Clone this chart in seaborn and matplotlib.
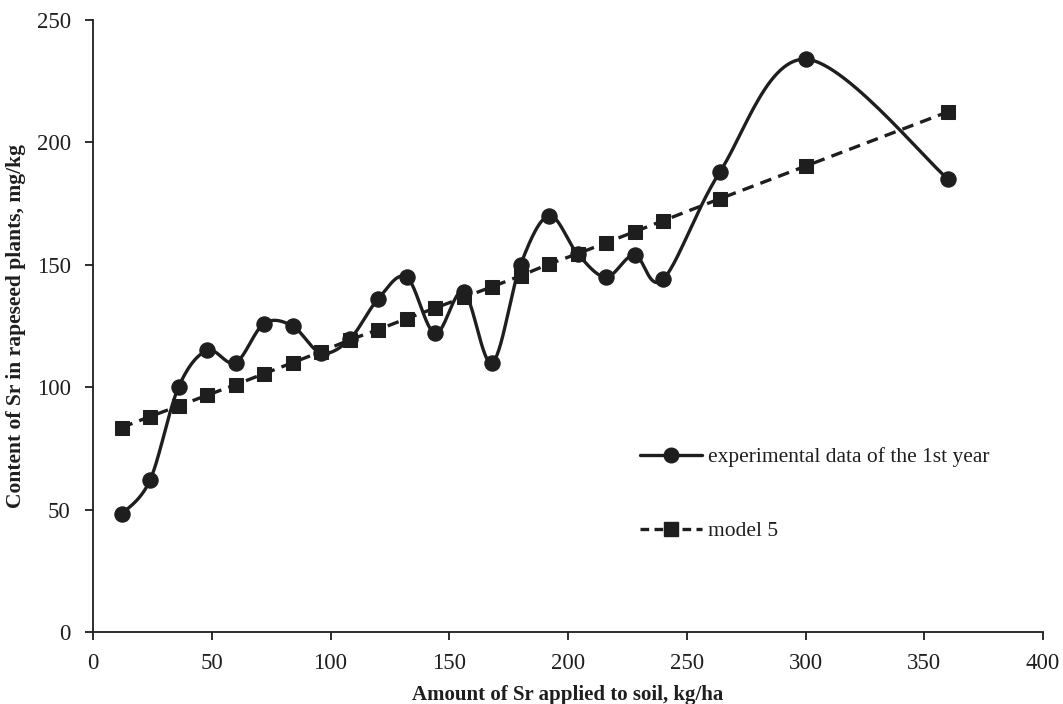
import numpy as np
import pandas as pd
import matplotlib
matplotlib.use("Agg")
import matplotlib.pyplot as plt
from matplotlib.lines import Line2D
import seaborn as sns

# Sr applied to soil (kg/ha) and Sr content in rapeseed plants (mg/kg)
sr_applied = [12, 24, 36, 48, 60, 72, 84, 96, 108, 120, 132, 144, 156, 168,
              180, 192, 204, 216, 228, 240, 264, 300, 360]
experimental = [48, 62, 100, 115, 110, 126, 125, 114, 119.5, 136, 145, 122, 139, 110,
                150, 170, 154.5, 145, 154, 144, 188, 234, 185]
model5 = [83.5, 88, 92.3, 96.7, 101, 105.5, 110, 114.5, 119.3, 123.5, 128, 132.3, 136.7, 141,
          145.5, 150.3, 154.5, 159, 163.5, 168, 177, 190.3, 212.5]

label_exp = "experimental data of the 1st year"
label_model = "model 5"
ink = "#1e1e1e"


def smooth_curve(x, y, n=30):
    # Excel-style smoothed line (Catmull-Rom as cubic Bezier)
    p = np.column_stack([x, y]).astype(float)
    ext = np.vstack([p[0], p, p[-1]])
    t = np.linspace(0, 1, n)[:, None]
    out = []
    for i in range(1, len(ext) - 2):
        p0, p1, p2, p3 = ext[i - 1], ext[i], ext[i + 1], ext[i + 2]
        c1 = p1 + (p2 - p0) / 6
        c2 = p2 - (p3 - p1) / 6
        seg = ((1 - t) ** 3) * p1 + 3 * ((1 - t) ** 2) * t * c1 + 3 * (1 - t) * t ** 2 * c2 + t ** 3 * p2
        out.append(seg if i == 1 else seg[1:])
    out = np.vstack(out)
    return out[:, 0], out[:, 1]


sns.set_style("white")
plt.rcParams['font.family'] = ['Liberation Serif', 'DejaVu Serif']

fig = plt.figure(figsize=(10.63, 7.04), dpi=100)
ax = fig.add_axes([0.0875, 0.1023, 0.8937, 0.8693])

df = pd.DataFrame({"x": sr_applied, "exp": experimental, "model": model5})
sx, sy = smooth_curve(df["x"], df["exp"])
curve = pd.DataFrame({"x": sx, "y": sy})

sns.lineplot(data=curve, x="x", y="y", sort=False, estimator=None, color=ink, lw=2.4, ax=ax)
sns.lineplot(data=df, x="x", y="model", estimator=None, color=ink, lw=2.4, ax=ax,
             marker="s", markersize=9.5, markeredgecolor=ink, linestyle=(0, (3.5, 2.2)))
sns.scatterplot(data=df, x="x", y="exp", color=ink, s=120, edgecolor=ink, ax=ax, zorder=5)

ax.set_xlim(0, 400)
ax.set_ylim(0, 250)
ax.set_xticks(range(0, 401, 50))
ax.set_yticks(range(0, 251, 50))
for s in ["top", "right"]:
    ax.spines[s].set_visible(False)
for s in ["left", "bottom"]:
    ax.spines[s].set_color(ink)
    ax.spines[s].set_linewidth(1.3)
ax.tick_params(axis="both", direction="out", length=6, width=1.3, color=ink,
               labelsize=16.5, labelcolor=ink, bottom=True, left=True)
ax.tick_params(axis="x", pad=9)
ax.tick_params(axis="y", pad=10)

ax.set_xlabel("Amount of Sr applied to soil, kg/ha", fontsize=15, fontweight="bold", color=ink, labelpad=8)
ax.set_ylabel("Content of Sr in rapeseed plants, mg/kg", fontsize=15.5, fontweight="bold", color=ink, labelpad=8)

handles = [
    Line2D([], [], color=ink, lw=2.4, marker="o", markersize=10.5),
    Line2D([], [], color=ink, lw=2.4, marker="s", markersize=9.5, linestyle=(0, (2.6, 1.6))),
]
ax.legend(handles, [label_exp, label_model], loc="upper left", bbox_to_anchor=(0.5915, 0.38),
          bbox_transform=fig.transFigure, frameon=False, fontsize=15.5, handlelength=2.9,
          handletextpad=0.3, labelspacing=2.5, borderpad=0, labelcolor=ink)

fig.savefig("out.png", dpi=100)
